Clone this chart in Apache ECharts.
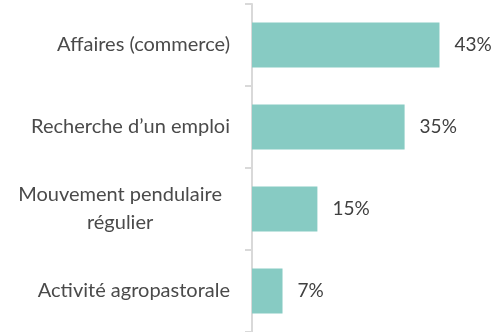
<!DOCTYPE html>
<html>
<head>
<meta charset="utf-8">
<script src="https://cdn.jsdelivr.net/npm/echarts@6/dist/echarts.min.js"></script>
<style>
  html, body { margin: 0; padding: 0; background: #ffffff; }
  #chart { width: 499px; height: 332px; }
</style>
</head>
<body>
<div id="chart"></div>
<script>
// Motifs de déplacement (part des répondants, %)
const categories = [
  'Affaires (commerce)',
  'Recherche d\u2019un emploi',
  'Mouvement pendulaire\nrégulier',
  'Activité agropastorale'
];
const values = [43, 35, 15, 7];

const FONT = 'Lato, "Open Sans", sans-serif';

const chart = echarts.init(document.getElementById('chart'), null, { renderer: 'canvas' });

chart.setOption({
  animation: false,
  backgroundColor: '#ffffff',
  grid: { left: 252, right: 29, top: 4, height: 333, containLabel: false },
  xAxis: {
    type: 'value',
    min: 0,
    max: 50,
    show: false
  },
  yAxis: {
    type: 'category',
    inverse: true,
    data: categories,
    axisLine: { show: true, lineStyle: { color: '#d9d9d9', width: 2 } },
    axisTick: { show: true, length: 7, lineStyle: { color: '#d9d9d9', width: 2 } },
    axisLabel: {
      margin: 22,
      fontFamily: FONT,
      fontSize: 20,
      color: '#4a4a4a',
      formatter: function (v) {
        if (v.indexOf('\n') >= 0) {
          return v.split('\n').map(function (s) { return '{m|' + s + '}'; }).join('\n');
        }
        return v;
      },
      rich: {
        m: {
          align: 'center',
          fontFamily: FONT,
          fontSize: 20,
          color: '#4a4a4a',
          lineHeight: 28,
          padding: [0, 8, 0, 0]
        }
      }
    },
    splitLine: { show: false }
  },
  series: [{
    type: 'bar',
    data: values,
    barCategoryGap: '45%',
    itemStyle: { color: '#87cbc3' },
    label: {
      show: true,
      position: 'right',
      distance: 15,
      fontFamily: FONT,
      fontSize: 19,
      color: '#404040',
      formatter: '{c}%'
    }
  }]
});
</script>
</body>
</html>
